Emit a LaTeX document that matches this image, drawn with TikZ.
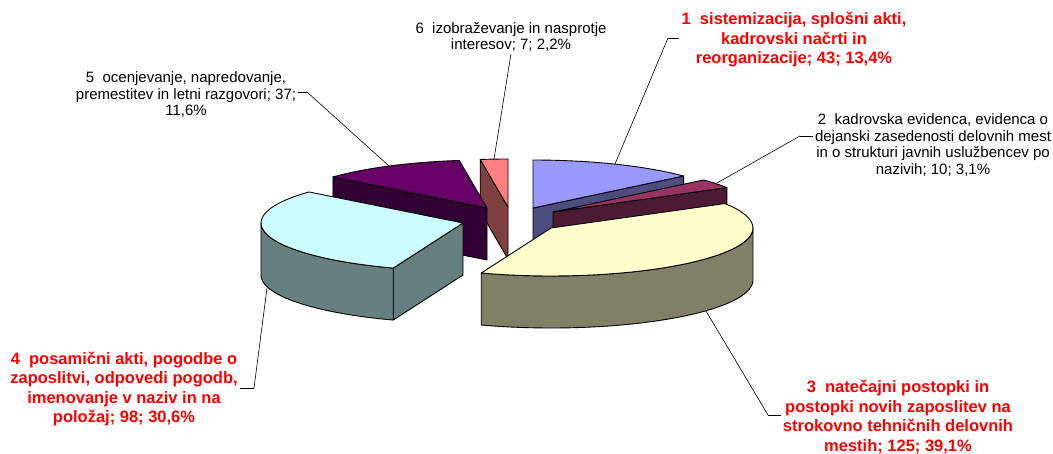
\documentclass[tikz,border=0pt]{standalone}
\usepackage{fontspec}
\setmainfont{Liberation Sans}
\usepackage{tikz}

\definecolor{periw}{HTML}{9999FF}
\definecolor{periwdk}{HTML}{4D4D80}
\definecolor{plum}{HTML}{993366}
\definecolor{plumdk}{HTML}{4D1A33}
\definecolor{cream}{HTML}{FFFFCC}
\definecolor{creamdk}{HTML}{808066}
\definecolor{ice}{HTML}{CCFFFF}
\definecolor{icedk}{HTML}{668080}
\definecolor{grape}{HTML}{660066}
\definecolor{grapedk}{HTML}{330033}
\definecolor{salmon}{HTML}{FF8080}
\definecolor{salmondk}{HTML}{804040}

% rim points and rim arcs of one slice, centre #1,#2, angle clockwise from top
\newcommand{\rimtop}[3]{({#1+202*sin(#3)},{#2-48*cos(#3)})}
\newcommand{\rimbot}[3]{({#1+202*sin(#3)},{#2+52-48*cos(#3)})}
\newcommand{\toparc}[4]{-- plot[domain=#3:#4,samples=40] ({#1+202*sin(\x)},{#2-48*cos(\x)})}
\newcommand{\botarc}[4]{-- plot[domain=#3:#4,samples=40] ({#1+202*sin(\x)},{#2+52-48*cos(\x)})}

\tikzset{face/.style={draw=black, line width=0.9pt, line join=round}}

\begin{document}
\begin{tikzpicture}[x=1pt,y=-1pt]
        \useasboundingbox (0,0) rectangle (1053,453);

        % slices, back to front
        \path[face, fill=salmondk] (508,207) -- \rimtop{508}{207}{352.1} -- \rimbot{508}{207}{352.1} -- (508,259) -- cycle;
        \path[face, fill=salmon] (508,207) \toparc{508}{207}{352.1}{360} -- cycle;

        \path[face, fill=grapedk] (487,208) -- \rimtop{487}{208}{310.3} -- \rimbot{487}{208}{310.3} -- (487,260) -- cycle;
        \path[face, fill=grape] (487,208) \toparc{487}{208}{310.3}{352.1} -- cycle;

        \path[face, fill=periwdk] (533,208) -- \rimtop{533}{208}{48.2} -- \rimbot{533}{208}{48.2} -- (533,260) -- cycle;
        \path[face, fill=periw] (533,208) \toparc{533}{208}{0}{48.2} -- cycle;

        \path[face, fill=plumdk] (553,212) -- \rimtop{553}{212}{59.4} -- \rimbot{553}{212}{59.4} -- (553,264) -- cycle;
        \path[face, fill=plum] (553,212) \toparc{553}{212}{48.2}{59.4} -- cycle;

        \path[face, fill=icedk] (463,223) -- \rimtop{463}{223}{200.2} -- \rimbot{463}{223}{200.2} -- (463,275) -- cycle;
        \path[face, fill=icedk] \rimtop{463}{223}{200.2} \toparc{463}{223}{200.2}{270} \botarc{463}{223}{270}{200.2} -- cycle;
        \path[face, fill=ice] (463,223) \toparc{463}{223}{200.2}{310.3} -- cycle;

        \path[face, fill=creamdk] \rimtop{551}{228}{90} \toparc{551}{228}{90}{200.2} \botarc{551}{228}{200.2}{90} -- cycle;
        \path[face, fill=cream] (551,228) \toparc{551}{228}{59.4}{200.2} -- cycle;

        \coordinate (p1) at (615,164);
        \coordinate (k1) at (668,38);
        \coordinate (p2) at (717,183);
        \coordinate (k2) at (800,136);
        \coordinate (p3) at (706,311);
        \coordinate (k3) at (768,415);
        \coordinate (p4) at (267,288);
        \coordinate (k4) at (254,388);
        \coordinate (p5) at (389,166);
        \coordinate (k5) at (307,92);
        \coordinate (p6) at (494,159);

        \begin{scope}[every node/.style={align=center, inner sep=2pt, font=\fontsize{15}{16.5}\selectfont}]
            \node (l2) at (933,145) {2~~kadrovska evidenca, evidenca o\\dejanski zasedenosti delovnih mest\\in o strukturi javnih uslužbencev po\\nazivih; 10; 3,1\%};
            \node (l5) at (186,95) {5~~ocenjevanje, napredovanje,\\premestitev in letni razgovori; 37;\\11,6\%};
            \node (l6) at (511,37) {6~~izobraževanje in nasprotje\\interesov; 7; 2,2\%};
        \end{scope}
        \begin{scope}[every node/.style={align=center, inner sep=2pt, text=red, font=\bfseries\fontsize{16.5}{19.5}\selectfont}]
            \node (l1) at (794,40) {1~~sistemizacija, splošni akti,\\kadrovski načrti in\\reorganizacije; 43; 13,4\%};
            \node (l3) at (898,417) {3~~natečajni postopki in\\postopki novih zaposlitev na\\strokovno tehničnih delovnih\\mestih; 125; 39,1\%};
            \node (l4) at (124,389) {4~~posamični akti, pogodbe o\\zaposlitvi, odpovedi pogodb,\\imenovanje v naziv in na\\položaj; 98; 30,6\%};
        \end{scope}

        \begin{scope}[every edge/.style={draw, line width=0.6pt}]
            \path [-] (p1) edge (k1);
            \path [-] (k1) edge (k1 -| l1.west);
            \path [-] (p2) edge (k2);
            \path [-] (k2) edge (k2 -| l2.west);
            \path [-] (p3) edge (k3);
            \path [-] (k3) edge (k3 -| l3.west);
            \path [-] (p4) edge (k4);
            \path [-] (k4) edge (k4 -| l4.east);
            \path [-] (p5) edge (k5);
            \path [-] (k5) edge (k5 -| l5.east);
            \path [-] (p6) edge (l6.south);
        \end{scope}
\end{tikzpicture}
\end{document}
